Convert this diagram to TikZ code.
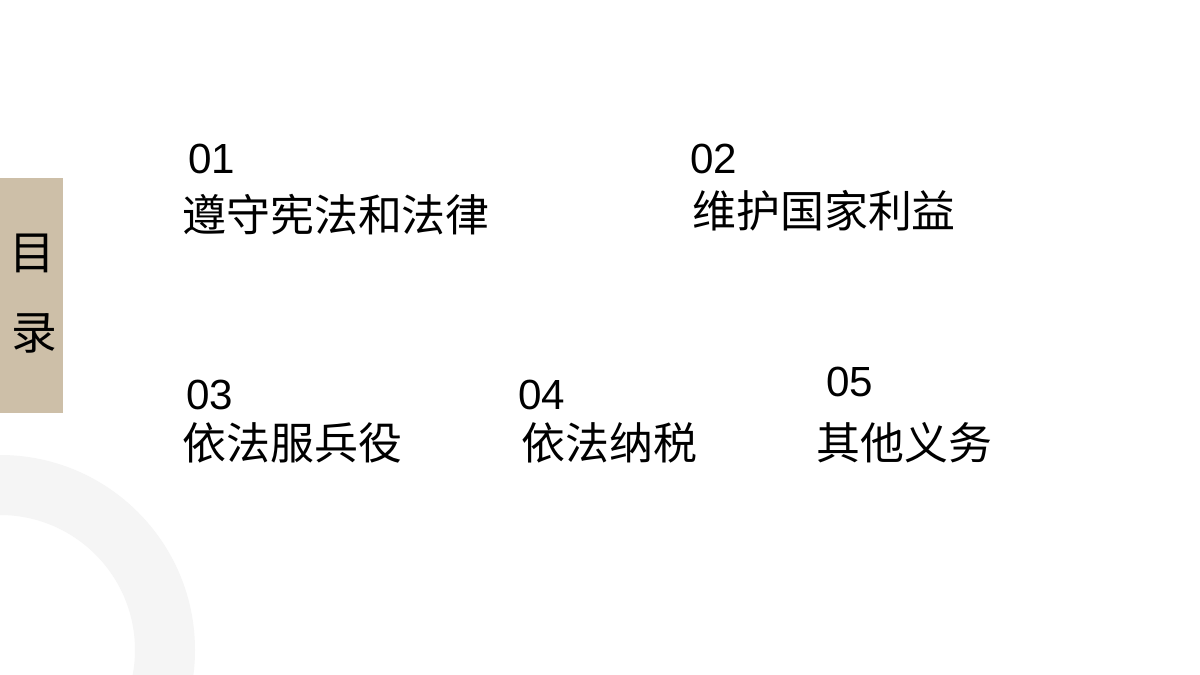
\documentclass[tikz,border=0pt]{standalone}
\usepackage{fontspec}
\newfontfamily\cjk{Noto Sans CJK SC}
\setmainfont{Liberation Sans}
\begin{document}
\begin{tikzpicture}[x=0.02cm,y=-0.02cm,
  num/.style={anchor=west,inner sep=0,font=\fontsize{24}{24}\selectfont},
  item/.style={anchor=west,inner sep=0,font=\cjk\fontsize{25}{25}\selectfont}]
\useasboundingbox (0,0) rectangle (1200,675);
\fill[white] (0,0) rectangle (1200,675);
\begin{scope}
\clip (0,0) rectangle (1200,675);
\fill[black!4,even odd rule] (0,650) circle (195) (0,650) circle (135);
\end{scope}
\fill[fill={rgb,255:red,205;green,191;blue,168}] (0,178) rectangle (63,413);
\node[font=\cjk\fontsize{26}{26}\selectfont] (m1) at (32,253) {目};
\node[font=\cjk\fontsize{26}{26}\selectfont] (m2) at (34,333) {录};
\node[num] (n1) at (188,159) {01};
\node[item] (t1) at (182,215) {遵守宪法和法律};
\node[num] (n2) at (690,159) {02};
\node[item] (t2) at (692,211) {维护国家利益};
\node[num] (n3) at (186,395) {03};
\node[item] (t3) at (182,443) {依法服兵役};
\node[num] (n4) at (518,395) {04};
\node[item] (t4) at (521,443) {依法纳税};
\node[num] (n5) at (826,382) {05};
\node[item] (t5) at (816,443) {其他义务};
\end{tikzpicture}
\end{document}
